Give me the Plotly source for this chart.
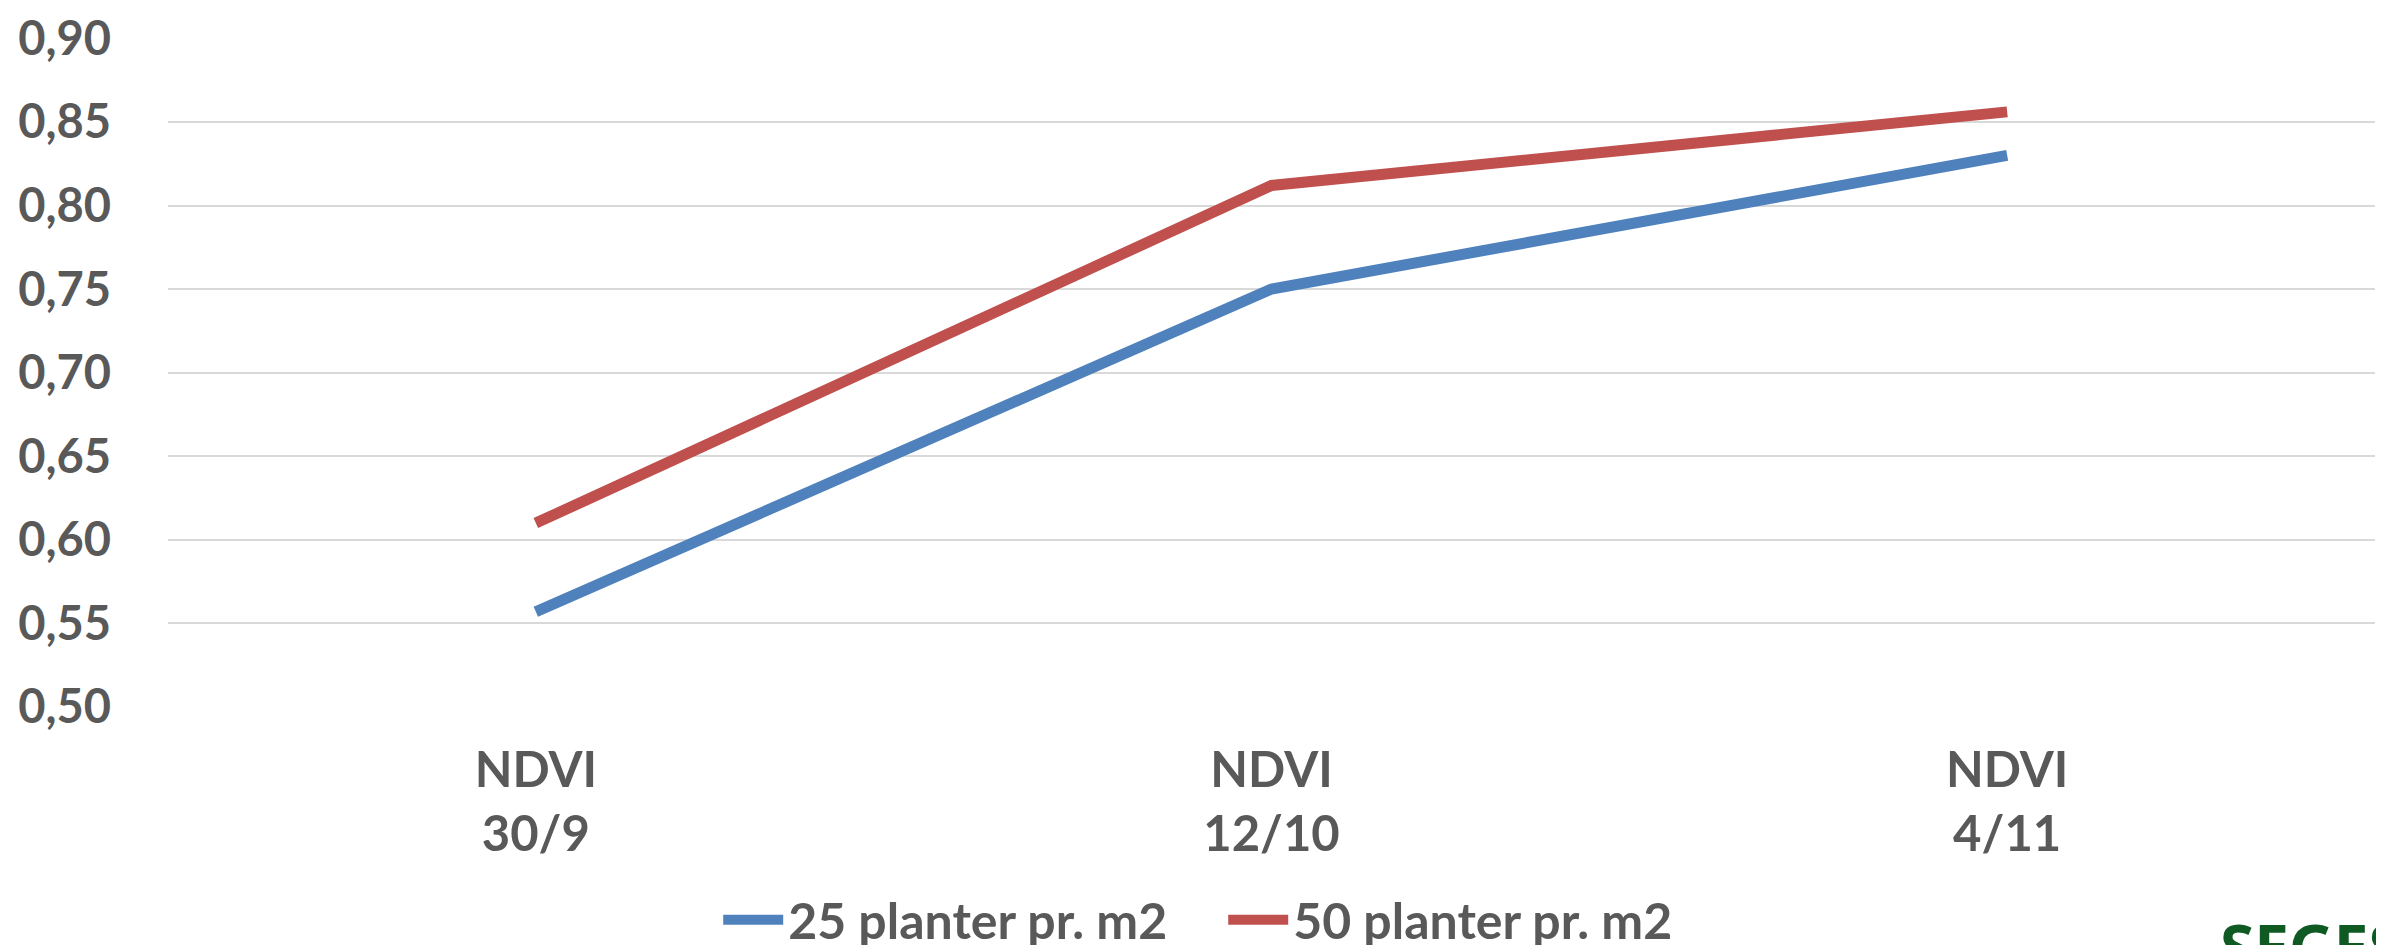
import plotly.graph_objects as go

categories = ["NDVI<br>30/9", "NDVI<br>12/10", "NDVI<br>4/11"]
series_25 = [0.557, 0.750, 0.830]
series_50 = [0.610, 0.812, 0.856]
series_names = ["25 planter pr. m2", "50 planter pr. m2"]
tick_vals = [0.50, 0.55, 0.60, 0.65, 0.70, 0.75, 0.80, 0.85, 0.90]
tick_text = ["0,50", "0,55", "0,60", "0,65", "0,70", "0,75", "0,80", "0,85", "0,90"]

FONT = "Lato"
TXT = "#595959"

fig = go.Figure()
fig.add_trace(go.Scatter(x=categories, y=series_25, mode="lines", name=series_names[0],
                         line=dict(color="#4F81BD", width=11)))
fig.add_trace(go.Scatter(x=categories, y=series_50, mode="lines", name=series_names[1],
                         line=dict(color="#C0504D", width=11)))

fig.update_layout(
    width=2384, height=945,
    margin=dict(l=160, r=17, t=30, b=246, autoexpand=False),
    paper_bgcolor="white", plot_bgcolor="white",
    font=dict(family=FONT, size=48, color=TXT),
    showlegend=True,
    legend=dict(orientation="h", x=0.2493, xanchor="left", y=-0.318, yanchor="middle",
                font=dict(family=FONT, size=50, color=TXT, weight="bold"),
                itemwidth=60, entrywidth=430, entrywidthmode="pixels",
                tracegroupgap=0, bgcolor="rgba(0,0,0,0)"),
)
fig.update_xaxes(type="category", showgrid=False, zeroline=False, showline=False,
                 ticks="", tickfont=dict(family=FONT, size=49, color=TXT, weight="bold"),
                 ticklabelstandoff=30, range=[-0.5, 2.5])
fig.update_yaxes(range=[0.5, 0.9002], tickvals=tick_vals, ticktext=tick_text,
                 showgrid=True, gridcolor="#D9D9D9", gridwidth=2, zeroline=False,
                 showline=False, ticks="",
                 tickfont=dict(family=FONT, size=47, color=TXT, weight="bold"),
                 ticklabelstandoff=56)

fig.add_annotation(text="<b>SEGES</b>", xref="paper", yref="paper", x=0.929, y=-0.292,
                   xanchor="left", yanchor="top", showarrow=False,
                   font=dict(family="Open Sans", size=62, color="#0E5A22"))

fig.write_html("out.html")
